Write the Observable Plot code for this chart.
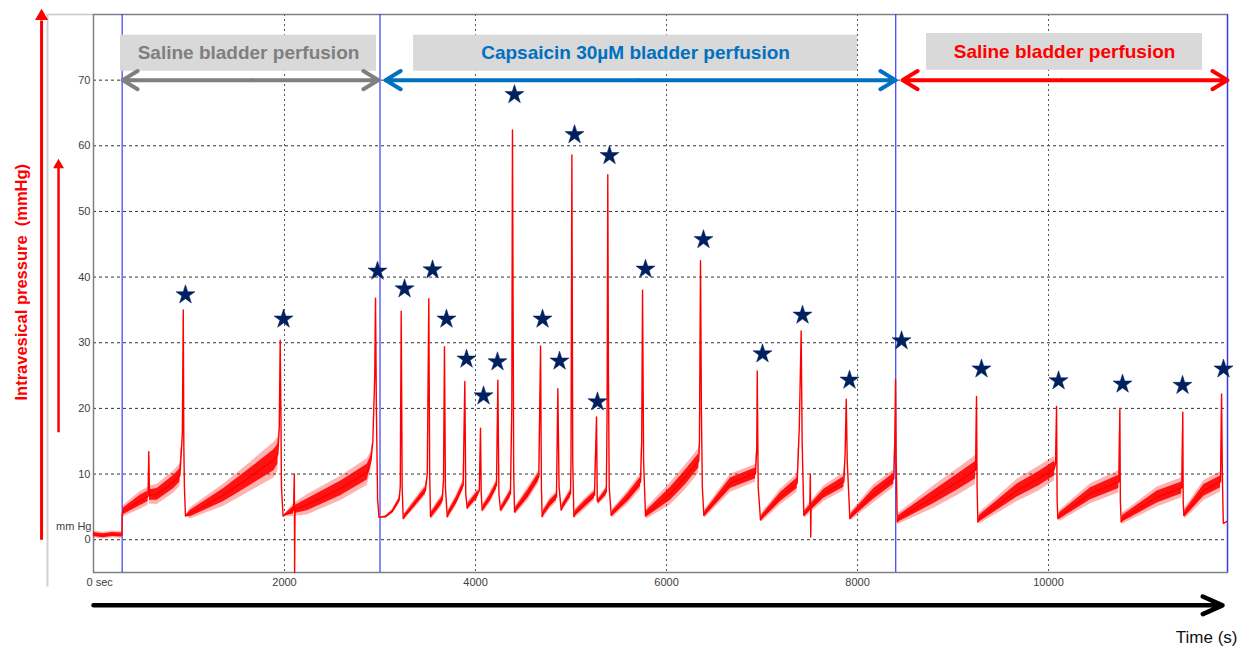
<!DOCTYPE html>
<html><head><meta charset="utf-8">
<script src="https://cdn.jsdelivr.net/npm/d3@7"></script>
<script src="https://cdn.jsdelivr.net/npm/@observablehq/plot@0.6"></script>
<style>
html,body{margin:0;padding:0;background:#fff;overflow:hidden;}
#chart{width:1239px;height:646px;}
</style></head><body><div id="chart"></div>
<script>
// ---- DATA ----
// Intravesical pressure trace keypoints: time (s), pressure (mmHg), half-height of noise band (mmHg)
const traceTime = [0,100,200,298,300,310,492,572,579,586,667,841,905,930,940,946,952,963,
1015,1364,1644,1888,1930,1945,1955,1962,1968,1985,2095,2103,2106,2110,2237,2586,2866,2905,2925,2945,2953,2962,2975,2990,
3060,3130,3200,3212,3222,3232,3243,3260,3350,3476,3495,3511,3520,3529,3540,3600,3651,3665,3675,3685,3704,
3715,3800,3871,3888,3898,3913,3925,4018,4040,4052,4060,4070,4080,4150,4220,4234,4245,4262,
4275,4366,4380,4387,4395,4400,4409,4420,4550,4663,4681,4690,4698,4710,4780,4848,4862,4875,4897,
4910,4995,5000,5009,5018,5030,5045,5150,5246,5267,5275,5285,5370,5378,5385,5392,5400,5421,
5435,5600,5728,5740,5749,5760,5780,5795,6042,6200,6338,6345,6356,6365,6375,6391,
6405,6670,6932,6945,6950,6960,6984,7000,7194,7368,7390,7410,7420,7438,7450,7500,7506,7510,7514,7647,7857,7870,7882,7892,7920,
7935,8171,8380,8390,8398,8405,8416,8430,8799,9050,9236,9246,9252,9260,9275,9672,9900,10060,10073,10084,10090,10098,
10115,10440,10736,10747,10752,10761,10775,11138,11395,11406,11410,11417,11430,11627,11801,11812,11820,11830,11870];
const tracePressure = [0.8,0.6,0.8,0.7,3.6,4.3,6.0,6.6,13.4,6.8,6.9,8.8,9.8,16,35,14,8,3.6,
4.0,6.8,9.6,12.1,13,17,30.4,20,8,3.6,4.5,10,-5,4.6,5.3,7.8,10.3,12,15,25,36.8,20,6,3.4,
3.5,4.3,6.0,8,34.8,8,3.2,3.6,5.2,7.5,10,36.7,10,3.5,3.8,5.0,6.0,9,29.4,8,3.5,
3.9,6.0,8.3,24.1,7,4.8,5.2,6.8,7.5,17.0,7,4.5,4.8,6.3,8.3,24.3,7,4.5,
4.8,7.0,20,62.4,30,10,4.2,4.5,7.0,9.6,29.5,8,3.5,4.0,5.5,6.5,23.0,8,4.5,
5.0,7.0,12,58.6,12,3.5,4.0,5.5,6.8,18.7,6,5.8,7.3,20,55.6,25,8,3.7,
4.0,6.5,8.8,15,38.0,12,3.6,4.0,7.0,9.5,12.0,15,42.5,20,8,3.7,
4.0,8.6,10.1,14,25.7,8,3.0,3.4,6.5,8.6,17,31.8,15,3.7,4.0,4.8,10,0.4,5,7.0,8.8,13,21.4,12,3.2,
3.6,7.0,9.3,15,24.4,12,2.7,3.2,6.5,8.8,10.6,21.8,8,2.7,3.2,7.5,9.3,10.8,11.5,20.3,6,3.2,
3.6,7.0,8.8,20.0,6,2.7,3.2,6.5,7.9,19.4,6,3.7,4.0,7.5,8.8,22.2,10,2.5,2.8];
const traceNoise = [0.3,0.3,0.3,0.3,0,0.5,0.8,0.8,0,0.8,0.9,1.0,1.0,0,0,0,0,0,
0.5,1.0,1.3,1.6,1.5,0,0,0,0,0,0.6,0,0,0.6,0.9,1.1,1.2,0.8,0,0,0,0,0,0,
0.1,0.2,0.3,0,0,0,0,0.3,0.4,0.5,0,0,0,0,0.4,0.5,0.5,0,0,0,0,
0.4,0.5,0.5,0,0,0,0.4,0.5,0,0,0,0,0.4,0.5,0.5,0,0,0,
0.4,0.5,0,0,0,0,0,0.4,0.6,0.6,0,0,0,0.4,0.5,0.5,0,0,0,
0.4,0.5,0,0,0,0,0.4,0.5,0.5,0,0,0.3,0.5,0,0,0,0,0,
0.4,0.6,0.7,0,0,0,0,0.5,1.0,1.1,1.1,0,0,0,0,0,
0.4,0.8,0.8,0,0,0,0,0.4,0.7,0.8,0,0,0,0,0.4,0.5,0,0,0.5,0.7,0.8,0,0,0,0,
0.4,0.8,0.8,0,0,0,0,0.5,1.0,1.2,1.3,0,0,0,0.5,1.0,1.1,1.1,0,0,0,0,
0.5,0.9,1.0,0,0,0,0.5,0.9,0.9,0,0,0,0.5,0.9,0.9,0,0,0,0];
// Voiding contractions (stars)
const starTime = [963,1990,2974,3257,3550,3696,3906,4084,4230,4408,4702,4880,5037,5277,5403,5780,6387,7005,7424,7916,8461,9298,10105,10775,11403,11832];
const starPressure = [37.3,33.6,40.9,38.2,41.1,33.6,27.5,21.9,27.1,67.8,33.6,27.2,61.7,21.0,58.5,41.2,45.7,28.3,34.2,24.3,30.3,26.0,24.2,23.7,23.5,26.0];
// Event markers (perfusion changes)
const eventTime = [300, 3000, 8400, 11874];
// Axes
const yTicks = [0,10,20,30,40,50,60,70];
const xTicks = [0,2000,4000,6000,8000,10000];
const xTickLabels = ["0 sec","2000","4000","6000","8000","10000"];
// Perfusion phases
const phaseNames = ["Saline bladder perfusion","Capsaicin 30µM bladder perfusion","Saline bladder perfusion"];
const phaseFrom = [300, 3000, 8400];
const phaseTo = [3000, 8400, 11874];

// ---- LAYOUT / STYLE ----
const phaseColors = ["#7f7f7f","#0070c0","#ff0000"];
const arrowInsetStart = [4, 58, 71];
const arrowInsetEnd = [16, 2, 0];
const boxes = [[283,2963,71.35,76.85],[3351,8000,71.35,76.85],[8723,11613,71.5,77.1]];
const font = "'Liberation Sans', Arial, sans-serif";

const trace = traceTime.map((t,i)=>({t, p: tracePressure[i], n: traceNoise[i]}));
const stars = starTime.map((t,i)=>({t, p: starPressure[i]}));
const phases = phaseNames.map((name,i)=>({
  name, color: phaseColors[i],
  a1: phaseFrom[i] + arrowInsetStart[i], a2: phaseTo[i] - arrowInsetEnd[i],
  mid: (phaseFrom[i] + phaseTo[i]) / 2,
  bx1: boxes[i][0], bx2: boxes[i][1], by1: boxes[i][2], by2: boxes[i][3]
}));
phases.forEach(d => { d.tx = (d.bx1 + d.bx2) / 2; d.ty = (d.by1 + d.by2) / 2; });
const xTickData = xTicks.map((t,i)=>({t, label: xTickLabels[i]}));

const arrowY = 70;
const plot = Plot.plot({
  width: 1239, height: 646,
  marginLeft: 93, marginRight: 12, marginTop: 14, marginBottom: 74,
  x: {domain: [0, 11874], axis: null},
  y: {domain: [-5, 80], axis: null},
  style: {fontFamily: font, background: "#fff", overflow: "visible"},
  marks: [
    // outer light box
    Plot.ruleX([-482], {y1: -7.2, y2: 80, stroke: "#d0d0d0", strokeWidth: 2}),
    Plot.ruleY([80], {x1: -482, x2: 0, stroke: "#c8c8c8", strokeWidth: 1.5}),
    // grid
    Plot.ruleY(yTicks, {stroke: "#333", strokeDasharray: "3,3", strokeWidth: 1}),
    Plot.ruleX(xTicks.filter(d => d > 0), {stroke: "#555", strokeDasharray: "2,3", strokeWidth: 1}),
    Plot.frame({stroke: "#808080", strokeWidth: 1.5}),
    // event markers
    Plot.ruleX(eventTime, {stroke: "#3a3aff", strokeWidth: 1.2}),
    // trace: faint outer noise fringe, dense noise band, then the trace line
    Plot.areaY(trace, {x: "t", y1: d => d.p - 1.7 * d.n, y2: d => d.p + 1.7 * d.n, fill: "#ff0000", fillOpacity: 0.3}),
    Plot.areaY(trace, {x: "t", y1: d => d.p - d.n, y2: d => d.p + d.n, fill: "#ff0000", fillOpacity: 0.9}),
    Plot.lineY(trace, {x: "t", y: "p", stroke: "#ff0000", strokeWidth: 1.4}),
    // stars
    Plot.dot(stars, {x: "t", y: "p", symbol: "star", r: 6, fill: "#002060", stroke: "#002060", strokeWidth: 0.5}),
    // phase labels
    Plot.rect(phases, {x1: "bx1", x2: "bx2", y1: "by1", y2: "by2", fill: "#d9d9d9"}),
    Plot.text(phases, {x: "tx", y: "ty", text: "name", fill: "color", fontSize: 19, fontWeight: "bold"}),
    Plot.arrow(phases, {x1: "mid", x2: "a1", y1: arrowY, y2: arrowY, stroke: "color", strokeWidth: 4, headLength: 6.6, headAngle: 62}),
    Plot.arrow(phases, {x1: "mid", x2: "a2", y1: arrowY, y2: arrowY, stroke: "color", strokeWidth: 4, headLength: 6.6, headAngle: 62}),
    // y tick labels
    Plot.text(yTicks, {x: 0, y: d => d, text: d => String(d), textAnchor: "end", dx: -3, fontSize: 11, fill: "#404040"}),
    Plot.text(["mm Hg"], {x: 0, y: 2.0, text: d => d, textAnchor: "end", dx: -2, fontSize: 11, fill: "#404040"}),
    // x tick labels
    Plot.text(xTickData.slice(1), {x: "t", y: -5, dy: 10, text: "label", fontSize: 11, fill: "#404040"}),
    Plot.text(xTickData.slice(0, 1), {x: "t", y: -5, dy: 10, dx: -7, text: "label", textAnchor: "start", fontSize: 11, fill: "#404040"}),
    // time arrow + label
    Plot.arrow([0], {x1: 0, x2: 11822, y1: -10.0, y2: -10.0, stroke: "#000", strokeWidth: 4.5, headLength: 7.2, headAngle: 48}),
    Plot.text(["Time (s)"], {x: 11874, y: -14.9, dx: 10, text: d => d, textAnchor: "end", fontSize: 17, fill: "#111"}),
    // y axis arrows + label
    Plot.ruleX([-544], {y1: -0.1, y2: 79.0, stroke: "#ff0000", strokeWidth: 3}),
    Plot.dot([-544], {x: d => d, y: 79.73, symbol: "triangle", r: 3.9, fill: "#ff0000", stroke: "#ff0000"}),
    Plot.ruleX([-366], {y1: 16.3, y2: 56.6, stroke: "#ff0000", strokeWidth: 2.5}),
    Plot.dot([-366], {x: d => d, y: 57.06, symbol: "triangle", r: 3.1, fill: "#ff0000", stroke: "#ff0000"}),
    Plot.text(["Intravesical pressure  (mmHg)"], {x: -754, y: 21.2, text: d => d, rotate: -90, textAnchor: "start", fontSize: 16.5, fontWeight: "bold", fill: "#ff0000"})
  ]
});
document.getElementById("chart").appendChild(plot);
</script>
</body></html>
